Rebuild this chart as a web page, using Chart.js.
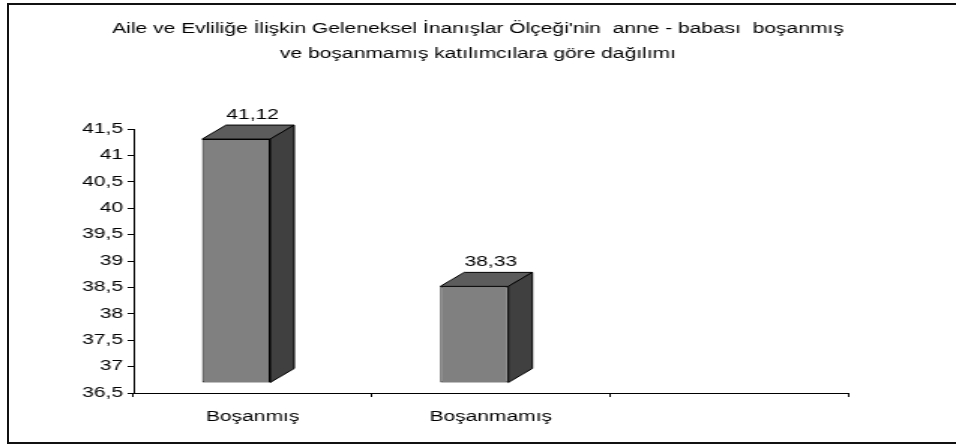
<!DOCTYPE html>
<html>
<head>
<meta charset="utf-8">
<script src="https://cdn.jsdelivr.net/npm/chart.js@4.4.1/dist/chart.umd.min.js"></script>
<style>
  html, body { margin: 0; padding: 0; background: #fff; overflow: hidden; }
  /* the reference is stretched sideways, so the chart is drawn narrow and scaled in x */
  #stage { position: absolute; left: 0; top: 0; width: 637px; height: 446px;
           transform: scaleX(1.5008); transform-origin: 0 0; }
  #frame { position: absolute; left: 7px; top: 3px; width: 960px; height: 437px;
           border: 2px solid #111; border-right: none; }
</style>
</head>
<body>
<div id="stage"><canvas id="chart" width="637" height="446"></canvas></div>
<div id="frame"></div>
<script>
// ---------- Data ----------
const titleLines = [
  "Aile ve Evliliğe İlişkin Geleneksel İnanışlar Ölçeği'nin  anne - babası  boşanmış",
  "ve boşanmamış katılımcılara göre dağılımı"
];
const categories = ["Boşanmış", "Boşanmamış", ""];
const meanScores = [41.12, 38.33, null];
const yMin = 36.5;
const yMax = 41.5;
const yStep = 0.5;

// ---------- Look ----------
const FONT = { family: '"Liberation Sans", Arial, sans-serif', size: 14 };
const DEPTH_X = 16; // 3d depth, canvas px
const DEPTH_Y = 14;
const SHIFT_X = -11; // front face sits a bit left/up of the category slot
const SHIFT_Y = -10;

const commaNum = (v) => String(v).replace(".", ",");

// fake 3d columns: draw the chart.js bar as the front face, then add top + side
const bar3d = {
  id: "bar3d",
  beforeDatasetsDraw(chart) {
    chart.ctx.save();
    chart.ctx.translate(SHIFT_X, SHIFT_Y);
  },
  afterDatasetsDraw(chart) {
    const ctx = chart.ctx;
    const bars = chart.getDatasetMeta(0).data;
    bars.forEach((bar, i) => {
      if (meanScores[i] == null) return;
      const { x, y, base, width } = bar.getProps(["x", "y", "base", "width"], true);
      const l = x - width / 2;
      const r = x + width / 2;
      ctx.lineWidth = 1;
      ctx.strokeStyle = "#000";

      ctx.beginPath();
      ctx.moveTo(l, y);
      ctx.lineTo(l + DEPTH_X, y - DEPTH_Y);
      ctx.lineTo(r + DEPTH_X, y - DEPTH_Y);
      ctx.lineTo(r, y);
      ctx.closePath();
      ctx.fillStyle = "#5c5c5c";
      ctx.fill();
      ctx.stroke();

      ctx.beginPath();
      ctx.moveTo(r, y);
      ctx.lineTo(r + DEPTH_X, y - DEPTH_Y);
      ctx.lineTo(r + DEPTH_X, base - DEPTH_Y);
      ctx.lineTo(r, base);
      ctx.closePath();
      ctx.fillStyle = "#404040";
      ctx.fill();
      ctx.stroke();
    });
    ctx.restore();

    // value labels above each column
    ctx.save();
    ctx.font = `${FONT.size}px ${FONT.family}`;
    ctx.fillStyle = "#000";
    ctx.textAlign = "center";
    ctx.textBaseline = "middle";
    bars.forEach((bar, i) => {
      if (meanScores[i] == null) return;
      ctx.fillText(commaNum(meanScores[i]), bar.x, bar.y + SHIFT_Y - DEPTH_Y - 10);
    });
    ctx.restore();
  }
};

new Chart(document.getElementById("chart"), {
  type: "bar",
  data: {
    labels: categories,
    datasets: [{
      data: meanScores,
      base: yMin,
      backgroundColor: "#808080",
      borderColor: "#000",
      borderWidth: 1,
      borderSkipped: false,
      barPercentage: 0.286,
      categoryPercentage: 1,
      clip: false
    }]
  },
  options: {
    responsive: false,
    animation: false,
    devicePixelRatio: 1,
    layout: { padding: 0 },
    plugins: {
      legend: { display: false },
      tooltip: { enabled: false },
      title: {
        display: true,
        text: titleLines,
        color: "#000",
        font: { family: FONT.family, size: 14, weight: "normal", lineHeight: "25px" },
        padding: { top: 17, bottom: 62 }
      }
    },
    scales: {
      x: {
        ticks: { color: "#000", font: FONT, padding: 12 },
        grid: { drawOnChartArea: false, tickLength: 4, color: "#000", offset: true },
        border: { color: "#000", width: 1 },
        afterFit: (s) => { s.height = 53; }
      },
      y: {
        min: yMin,
        max: yMax,
        ticks: { stepSize: yStep, color: "#000", font: FONT, padding: 3, callback: (v) => commaNum(v) },
        grid: { drawOnChartArea: false, tickLength: 4, color: "#000" },
        border: { color: "#000", width: 1 },
        afterFit: (s) => { s.width = 89; }
      },
      // empty right-hand strip, keeps the title centred on the whole canvas
      yRight: {
        position: "right",
        min: yMin,
        max: yMax,
        ticks: { display: false },
        grid: { display: false },
        border: { display: false },
        afterFit: (s) => { s.width = 72; }
      }
    }
  },
  plugins: [bar3d]
});
</script>
</body>
</html>
